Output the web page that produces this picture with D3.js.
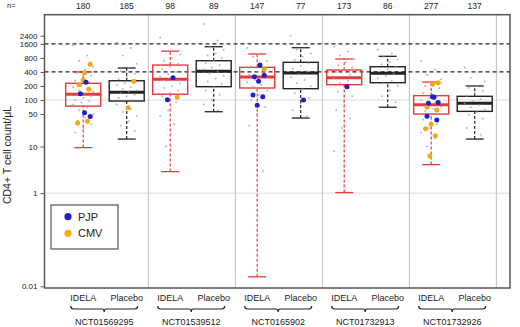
<!DOCTYPE html>
<html>
<head>
<meta charset="utf-8">
<script src="https://cdn.jsdelivr.net/npm/d3@7"></script>
<style>
  body { margin: 0; background: #fff; }
  text { font-family: "Liberation Sans", Arial, sans-serif; fill: #222; }
</style>
</head>
<body>
<svg id="chart" width="520" height="327"></svg>
<script>
// trial / arm labels
const trials = ['NCT01569295', 'NCT01539512', 'NCT0165902', 'NCT01732913', 'NCT01732926'];
const arms = ['IDELA', 'Placebo'];
const nCounts = [180, 185, 98, 89, 147, 77, 173, 86, 277, 137];

// box stats, one value per box (IDELA, Placebo per trial)
const whiskerLow = [9.5, 14.5, 2.9, 56, 0.016, 41, 1.03, 70, 4.1, 14.5];
const q1 = [74, 95, 133, 193, 181, 175, 213, 235, 50, 57];
const medians = [133, 146, 278, 413, 312, 380, 301, 374, 79, 85];
const q3 = [228, 259, 563, 697, 502, 644, 440, 518, 124, 120];
const whiskerHigh = [400, 486, 1120, 1393, 970, 1325, 759, 867, 243, 200];

// highlighted patients
const pjpValues = [
  [240, 136, 44, 53], [], [301, 101], [], [565, 316, 339, 252, 128, 118, 77],
  [100], [193], [], [114, 85, 88, 118, 45, 37], []
];
const cmvValues = [
  [583, 385, 213, 170, 268, 32, 35], [252, 68], [114], [], [456],
  [], [], [], [235, 217, 70, 61, 30, 24, 17, 6.3], []
];

// other patients (approximate readings of the grey dots)
const otherValues = [
  [1500, 900, 700, 520, 450, 380, 330, 300, 260, 240, 210, 190, 175, 160, 150, 140, 130, 120, 110, 100, 95, 88, 80, 70, 60, 50, 42, 36, 30, 25, 20],
  [1700, 1300, 900, 600, 480, 420, 360, 320, 280, 250, 230, 210, 190, 170, 160, 150, 140, 130, 120, 110, 100, 90, 80, 65, 55, 45, 35, 28, 22],
  [2200, 1600, 1100, 950, 800, 700, 600, 520, 460, 400, 360, 320, 290, 260, 230, 200, 180, 160, 140, 120, 90, 60, 45, 30, 10],
  [4300, 1900, 1400, 1200, 1000, 900, 800, 700, 620, 560, 500, 450, 410, 370, 330, 290, 250, 220, 190, 160, 130, 100, 80, 60],
  [1300, 1000, 850, 700, 600, 520, 450, 400, 350, 300, 270, 240, 210, 190, 160, 130, 100, 70, 50, 28, 3],
  [2400, 1600, 1200, 1000, 850, 720, 620, 540, 470, 410, 360, 310, 270, 230, 200, 170, 140, 110, 85, 60, 45],
  [1400, 1100, 900, 750, 650, 560, 500, 450, 400, 350, 320, 290, 260, 230, 210, 180, 150, 120, 90, 60, 40, 25, 8],
  [1200, 1000, 850, 750, 650, 580, 520, 460, 410, 370, 330, 290, 260, 230, 200, 160, 120, 90],
  [700, 450, 350, 280, 230, 200, 180, 160, 140, 120, 110, 100, 90, 80, 72, 65, 58, 50, 44, 38, 30, 25, 20, 15, 10],
  [500, 400, 300, 250, 200, 180, 160, 140, 120, 105, 95, 85, 78, 70, 62, 55, 48, 40, 32, 25, 18]
];

const yTicks = [0.01, 1, 10, 50, 100, 200, 400, 800, 1600, 2400];
const refLines = [400, 1600];
const gridLines = [1, 100];

const svg = d3.select('#chart');
const plotLeft = 44.5, plotRight = 510, plotTop = 14.7, plotBottom = 288;

const x = d3.scaleLinear().domain([1, 10]).range([83.2, 474.7]);
const y = d3.scaleLog().domain([0.01, 100]).range([286.3, 100]);
const colors = ['#e8393b', '#222'];
const boxW = 35, capW = 18;

// grid lines
svg.selectAll('.grid')
  .data(gridLines)
  .enter()
  .append('line')
  .attr('x1', plotLeft).attr('x2', plotRight)
  .attr('y1', d => y(d)).attr('y2', d => y(d))
  .attr('stroke', '#dcdcdc').attr('stroke-width', 1);

// trial separators
svg.selectAll('.sep')
  .data(trials)
  .enter()
  .append('line')
  .attr('x1', (d, i) => x(i * 2 + 2.5)).attr('x2', (d, i) => x(i * 2 + 2.5))
  .attr('y1', plotTop).attr('y2', plotBottom)
  .attr('stroke', '#c8c8c8').attr('stroke-width', 1.2);

// dashed reference lines
svg.selectAll('.ref')
  .data(refLines)
  .enter()
  .append('line')
  .attr('x1', plotLeft).attr('x2', plotRight)
  .attr('y1', d => y(d)).attr('y2', d => y(d))
  .attr('stroke', '#222').attr('stroke-width', 1.2)
  .attr('stroke-dasharray', '4,3');

// boxes
const boxes = svg.selectAll('.box')
  .data(medians)
  .enter()
  .append('g')
  .attr('class', 'box');

boxes.append('line')
  .attr('x1', (d, i) => x(i + 1)).attr('x2', (d, i) => x(i + 1))
  .attr('y1', (d, i) => y(whiskerLow[i])).attr('y2', (d, i) => y(q1[i]))
  .attr('stroke', (d, i) => colors[i % 2]).attr('stroke-width', 1.2)
  .attr('stroke-dasharray', '3,2');
boxes.append('line')
  .attr('x1', (d, i) => x(i + 1)).attr('x2', (d, i) => x(i + 1))
  .attr('y1', (d, i) => y(q3[i])).attr('y2', (d, i) => y(whiskerHigh[i]))
  .attr('stroke', (d, i) => colors[i % 2]).attr('stroke-width', 1.2)
  .attr('stroke-dasharray', '3,2');
[whiskerLow, whiskerHigh].forEach(arr => {
  boxes.append('line')
    .attr('x1', (d, i) => x(i + 1) - capW / 2).attr('x2', (d, i) => x(i + 1) + capW / 2)
    .attr('y1', (d, i) => y(arr[i])).attr('y2', (d, i) => y(arr[i]))
    .attr('stroke', (d, i) => colors[i % 2]).attr('stroke-width', 1.3);
});
boxes.append('rect')
  .attr('x', (d, i) => x(i + 1) - boxW / 2)
  .attr('y', (d, i) => y(q3[i]))
  .attr('width', boxW)
  .attr('height', (d, i) => y(q1[i]) - y(q3[i]))
  .attr('fill', 'none')
  .attr('stroke', (d, i) => colors[i % 2]).attr('stroke-width', 1.4);
boxes.append('line')
  .attr('x1', (d, i) => x(i + 1) - boxW / 2).attr('x2', (d, i) => x(i + 1) + boxW / 2)
  .attr('y1', d => y(d)).attr('y2', d => y(d))
  .attr('stroke', (d, i) => colors[i % 2]).attr('stroke-width', 3);

// jittered points
const jitter = (i, spread) => ((i * 7) % 11 - 5) / 5 * spread;
const flat = (lists) => lists.flatMap((vals, g) => vals.map((v, i) => ({ g, v, i })));

svg.selectAll('.other')
  .data(flat(otherValues))
  .enter()
  .append('circle')
  .attr('cx', d => x(d.g + 1) + jitter(d.i, 10))
  .attr('cy', d => y(d.v))
  .attr('r', 1)
  .attr('fill', '#9a9a9a')
  .attr('opacity', 0.7);

svg.selectAll('.cmv')
  .data(flat(cmvValues))
  .enter()
  .append('circle')
  .attr('cx', d => x(d.g + 1) + jitter(d.i + 3, 7))
  .attr('cy', d => y(d.v))
  .attr('r', 2.5)
  .attr('fill', '#f3a912');

svg.selectAll('.pjp')
  .data(flat(pjpValues))
  .enter()
  .append('circle')
  .attr('cx', d => x(d.g + 1) + jitter(d.i + 1, 7))
  .attr('cy', d => y(d.v))
  .attr('r', 2.5)
  .attr('fill', '#1f1fc8');

// frame
svg.append('rect')
  .attr('x', plotLeft).attr('y', plotTop)
  .attr('width', plotRight - plotLeft).attr('height', plotBottom - plotTop)
  .attr('fill', 'none').attr('stroke', '#555').attr('stroke-width', 1.5);

// y axis
const yAxis = svg.append('g')
  .attr('transform', `translate(${plotLeft},0)`)
  .call(d3.axisLeft(y).tickValues(yTicks).tickFormat(d3.format('~g')).tickSize(4).tickPadding(3));
yAxis.select('.domain').remove();
yAxis.selectAll('line').attr('stroke', '#555');
yAxis.selectAll('text').style('font-size', '8px').style('font-family', '"Liberation Sans", Arial, sans-serif').attr('fill', '#222');

svg.append('text')
  .attr('transform', 'translate(11,155) rotate(-90)')
  .attr('text-anchor', 'middle')
  .style('font-size', '10.5px')
  .text('CD4+ T cell count/\u03bcL');

// n= row
svg.append('text')
  .attr('x', 7).attr('y', 8)
  .style('font-size', '7.5px')
  .text('n=');
svg.selectAll('.n')
  .data(nCounts)
  .enter()
  .append('text')
  .attr('x', (d, i) => x(i + 1)).attr('y', 8.5)
  .attr('text-anchor', 'middle')
  .style('font-size', '8.5px')
  .text(d => d);

// arm labels
svg.selectAll('.arm')
  .data(nCounts)
  .enter()
  .append('text')
  .attr('x', (d, i) => x(i + 1)).attr('y', 301)
  .attr('text-anchor', 'middle')
  .style('font-size', '9px')
  .text((d, i) => arms[i % 2]);

// braces and trial names
const braceY = 306;
trials.forEach((t, k) => {
  const x0 = x(k * 2 + 1) - 12.5, x1 = x(k * 2 + 2) + 11;
  const xm = (x0 + x1) / 2;
  svg.append('path')
    .attr('d', `M${x0},${braceY} Q${x0},${braceY + 3} ${x0 + 3},${braceY + 3} L${xm - 2},${braceY + 3} Q${xm},${braceY + 3} ${xm},${braceY + 6} Q${xm},${braceY + 3} ${xm + 2},${braceY + 3} L${x1 - 3},${braceY + 3} Q${x1},${braceY + 3} ${x1},${braceY}`)
    .attr('fill', 'none').attr('stroke', '#222').attr('stroke-width', 1.2);
  svg.append('text')
    .attr('x', xm).attr('y', 325)
    .attr('text-anchor', 'middle')
    .style('font-size', '9px')
    .text(t);
});

// legend
const legend = svg.append('g');
legend.append('rect')
  .attr('x', 51).attr('y', 205).attr('width', 67).attr('height', 44)
  .attr('fill', '#fff').attr('stroke', '#555').attr('stroke-width', 1.2);
[['PJP', '#1f1fc8'], ['CMV', '#f3b30f']].forEach(([name, c], i) => {
  legend.append('circle').attr('cx', 68).attr('cy', 216.7 + i * 16.6).attr('r', 3.6).attr('fill', c);
  legend.append('text').attr('x', 78).attr('y', 220.7 + i * 16.6)
    .style('font-size', '11px').text(name);
});
</script>
</body>
</html>
